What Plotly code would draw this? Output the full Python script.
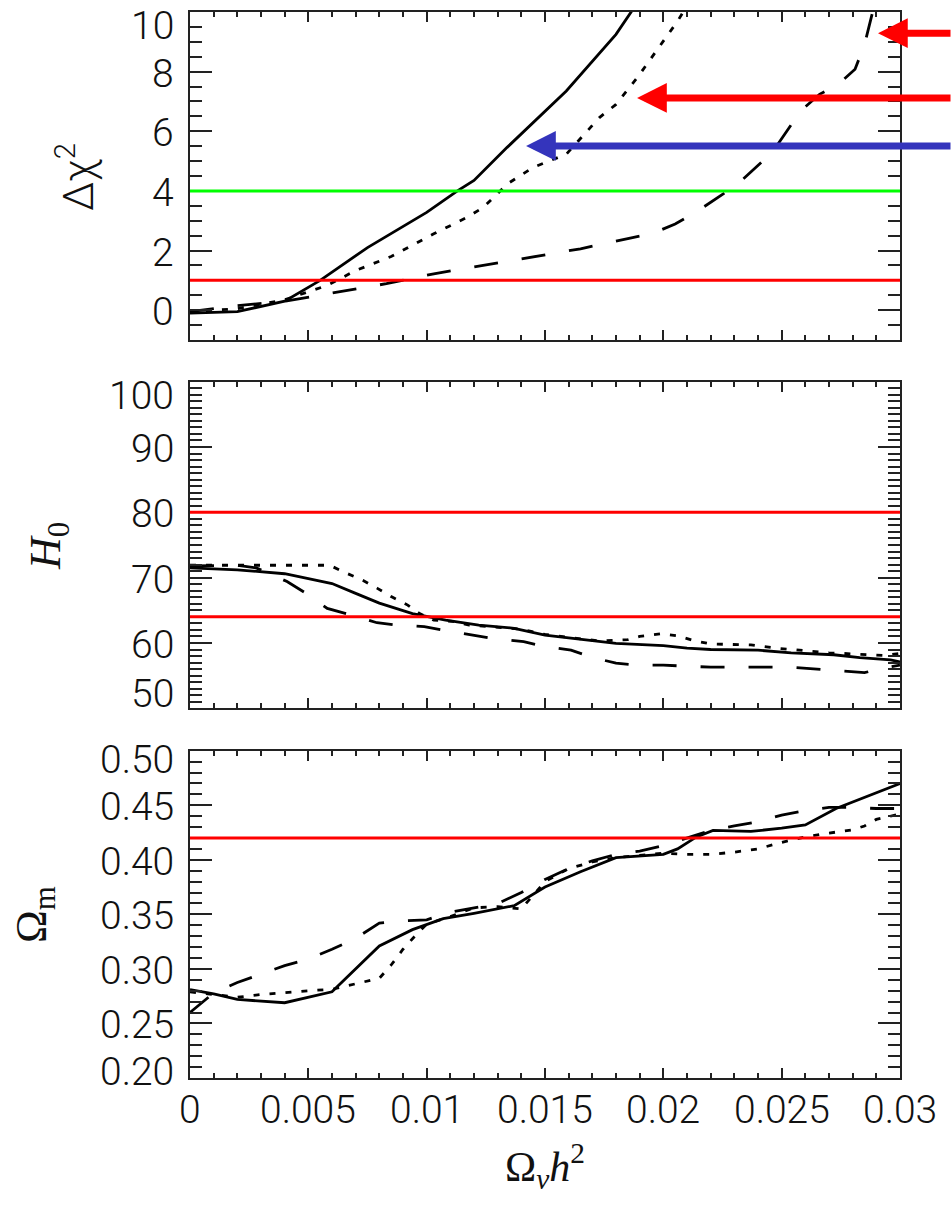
import plotly.graph_objects as go

# ---------------- data ----------------
# Panel 1: delta chi-square versus Omega_nu h^2
chi_solid_x = [0, 0.002, 0.004, 0.0055, 0.0075, 0.010, 0.0113, 0.012, 0.0134, 0.0159, 0.018, 0.020]
chi_solid_y = [-0.1, -0.05, 0.3, 1.0, 2.1, 3.28, 4.0, 4.35, 5.46, 7.35, 9.25, 11.6]
chi_dot_x = [0, 0.002, 0.004, 0.0058, 0.007, 0.0085, 0.0103, 0.0117, 0.0124, 0.0134, 0.0145,
             0.0159, 0.0173, 0.018, 0.0189, 0.0197, 0.0206, 0.022]
chi_dot_y = [-0.05, 0.05, 0.35, 0.83, 1.33, 1.8, 2.56, 3.11, 3.45, 4.23, 4.79,
             5.23, 6.46, 6.9, 7.8, 8.69, 9.69, 11.5]
chi_dash_x = [0, 0.002, 0.004, 0.0062, 0.0083, 0.0103, 0.0124, 0.0145, 0.0165, 0.0186, 0.0195,
              0.0205, 0.0214, 0.0231, 0.0246, 0.0258, 0.0266, 0.0274, 0.0281, 0.0285, 0.0290]
chi_dash_y = [-0.05, 0.15, 0.3, 0.6, 0.89, 1.22, 1.5, 1.78, 2.06, 2.42, 2.56,
              2.89, 3.3, 4.2, 5.29, 6.68, 7.24, 7.58, 8.08, 8.9, 10.5]

# Panel 2: Hubble constant
h0_solid_x = [0, 0.002, 0.004, 0.006, 0.007, 0.008, 0.0094, 0.0108, 0.0122, 0.0137, 0.015,
              0.0165, 0.018, 0.020, 0.021, 0.022, 0.024, 0.0254, 0.0272, 0.0283, 0.0296, 0.030]
h0_solid_y = [71.5, 71.2, 70.6, 69.1, 67.6, 66.1, 64.5, 63.5, 62.75, 62.25, 61.2,
              60.55, 59.95, 59.6, 59.2, 59.0, 58.9, 58.5, 58.2, 57.75, 57.4, 57.1]
h0_dot_x = [0, 0.002, 0.004, 0.0059, 0.0066, 0.0073, 0.0079, 0.0085, 0.0092, 0.0097, 0.0103,
            0.0111, 0.0118, 0.0127, 0.014, 0.015, 0.0165, 0.0173, 0.0185, 0.019, 0.0199,
            0.0206, 0.0213, 0.022, 0.0237, 0.0248, 0.027, 0.0285, 0.0293, 0.030]
h0_dot_y = [71.9, 71.9, 71.9, 71.9, 70.7, 69.6, 68.4, 67.1, 65.8, 64.5, 63.5,
            63.3, 62.75, 62.5, 62.1, 61.3, 60.6, 60.3, 60.5, 61.0, 61.4,
            61.1, 60.35, 59.85, 59.7, 59.2, 58.5, 58.3, 58.1, 58.4]
h0_dash_x = [0, 0.001, 0.002, 0.0028, 0.0041, 0.0049, 0.0058, 0.0068, 0.0079, 0.0087, 0.0099,
             0.0108, 0.012, 0.0128, 0.0141, 0.0149, 0.0161, 0.017, 0.018, 0.019, 0.020,
             0.021, 0.022, 0.0253, 0.0265, 0.0273, 0.0285, 0.0292, 0.030]
h0_dash_y = [71.8, 71.9, 71.9, 71.5, 69.4, 67.6, 65.3, 64.3, 63.1, 62.75, 62.5,
             61.9, 61.2, 60.7, 60.2, 59.5, 58.9, 57.8, 56.9, 56.6, 56.6,
             56.4, 56.3, 56.3, 56.0, 55.7, 55.45, 56.1, 56.6]

# Panel 3: matter density
om_solid_x = [0, 0.001, 0.002, 0.004, 0.006, 0.008, 0.0094, 0.0107, 0.012, 0.0137, 0.015,
              0.0165, 0.018, 0.020, 0.0206, 0.0214, 0.0221, 0.0237, 0.025, 0.026, 0.0273,
              0.0286, 0.030]
om_solid_y = [0.281, 0.277, 0.272, 0.269, 0.279, 0.321, 0.336, 0.346, 0.351, 0.358, 0.375,
              0.389, 0.402, 0.405, 0.410, 0.421, 0.427, 0.426, 0.429, 0.432, 0.447,
              0.458, 0.470]
om_dot_x = [0, 0.002, 0.003, 0.004, 0.005, 0.006, 0.007, 0.008, 0.0085, 0.009, 0.0095, 0.010,
            0.011, 0.012, 0.013, 0.014, 0.015, 0.016, 0.017, 0.018, 0.019, 0.020, 0.021,
            0.022, 0.023, 0.024, 0.025, 0.026, 0.027, 0.028, 0.0285, 0.029, 0.030]
om_dot_y = [0.279, 0.274, 0.2765, 0.2785, 0.280, 0.2813, 0.2865, 0.2914, 0.3036, 0.318, 0.330, 0.341,
            0.348, 0.356, 0.357, 0.355, 0.380, 0.392, 0.398, 0.402, 0.404, 0.406, 0.405,
            0.405, 0.407, 0.410, 0.416, 0.421, 0.4245, 0.4275, 0.431, 0.437, 0.442]
om_dash_x = [0, 0.001, 0.002, 0.003, 0.004, 0.005, 0.006, 0.007, 0.008, 0.009, 0.010, 0.011,
             0.012, 0.013, 0.014, 0.015, 0.016, 0.017, 0.018, 0.019, 0.020, 0.021, 0.022,
             0.023, 0.024, 0.025, 0.026, 0.027, 0.028, 0.029, 0.030]
om_dash_y = [0.260, 0.278, 0.2875, 0.295, 0.303, 0.309, 0.318, 0.328, 0.342, 0.344, 0.345, 0.352,
             0.356, 0.360, 0.370, 0.382, 0.392, 0.399, 0.405, 0.408, 0.413, 0.420, 0.427,
             0.431, 0.435, 0.441, 0.445, 0.448, 0.448, 0.447, 0.447]

# Reference levels
chi_levels = [1, 4]
chi_level_colors = ["#FF0000", "#00FF00"]
h0_levels = [64, 80]
om_levels = [0.42]

# Pointer arrows in panel 1 (tip positions)
pointer_x = [0.02907, 0.01889, 0.0142]
pointer_y = [9.29, 7.12, 5.51]
pointer_colors = ["#FF0000", "#FF0000", "#3434BC"]

# Tick labels
x_tick_vals = [0, 0.005, 0.01, 0.015, 0.02, 0.025, 0.03]
x_tick_text = ["0", "0.005", "0.01", "0.015", "0.02", "0.025", "0.03"]
chi_tick_vals = [0, 2, 4, 6, 8, 10]
h0_tick_vals = [50, 60, 70, 80, 90, 100]
om_tick_vals = [0.20, 0.25, 0.30, 0.35, 0.40, 0.45, 0.50]
om_tick_text = ["0.20", "0.25", "0.30", "0.35", "0.40", "0.45", "0.50"]

# ---------------- layout geometry ----------------
W, H = 952, 1212
PX_LEFT, PX_RIGHT = 190, 900
panel_px = [(12, 340), (381.7, 708.3), (750.7, 1078)]
y_ranges = [[-1, 10], [50, 100], [0.2, 0.5]]
y_dticks = [2, 10, 0.05]
y_minor = [0.5, 1, 0.01]
y_refs = ["y", "y2", "y3"]
# pixel nudges for the end labels so they stay within each panel's height
end_label_shift = [(None, -14), (14, -14), (6.5, -9)]

AX_COLOR = "#222222"
TICK_FONT = dict(family="Roboto", size=39, color="#111111", weight=300)

def py2paper(py):
    return 1 - py / H

line_styles = {
    "solid": dict(color="black", width=2.8, dash="solid"),
    "dot": dict(color="black", width=2.8, dash="6px,10px"),
    "dash": dict(color="black", width=2.8, dash="24px,24px"),
}

fig = go.Figure()

series = [
    [(chi_solid_x, chi_solid_y, "solid"), (chi_dot_x, chi_dot_y, "dot"), (chi_dash_x, chi_dash_y, "dash")],
    [(h0_solid_x, h0_solid_y, "solid"), (h0_dot_x, h0_dot_y, "dot"), (h0_dash_x, h0_dash_y, "dash")],
    [(om_solid_x, om_solid_y, "solid"), (om_dot_x, om_dot_y, "dot"), (om_dash_x, om_dash_y, "dash")],
]

for i, group in enumerate(series):
    sfx = "" if i == 0 else str(i + 1)
    for xs, ys, style in group:
        fig.add_trace(go.Scatter(x=xs, y=ys, mode="lines", line=line_styles[style],
                                 xaxis="x" + sfx, yaxis="y" + sfx,
                                 showlegend=False, hoverinfo="skip"))

layout_axes = {}
for i in range(3):
    sfx = "" if i == 0 else str(i + 1)
    top, bot = panel_px[i]
    layout_axes["xaxis" + sfx] = dict(
        domain=[PX_LEFT / W, PX_RIGHT / W], range=[0, 0.03], anchor="y" + sfx,
        showline=True, linecolor=AX_COLOR, linewidth=2, mirror="ticks",
        ticks="inside", tick0=0, dtick=0.005, ticklen=10, tickwidth=1.5, tickcolor=AX_COLOR,
        minor=dict(ticks="inside", dtick=0.001, tick0=0, ticklen=5, tickwidth=1.5,
                   tickcolor=AX_COLOR, showgrid=False),
        showticklabels=False, showgrid=False, zeroline=False,
    )
    layout_axes["yaxis" + sfx] = dict(
        domain=[py2paper(bot), py2paper(top)], range=y_ranges[i], anchor="x" + sfx,
        showline=True, linecolor=AX_COLOR, linewidth=2, mirror="ticks",
        ticks="inside", tick0=0, dtick=y_dticks[i], ticklen=22, tickwidth=1.5, tickcolor=AX_COLOR,
        minor=dict(ticks="inside", dtick=y_minor[i], tick0=0, ticklen=12, tickwidth=1.5,
                   tickcolor=AX_COLOR, showgrid=False),
        showticklabels=False, showgrid=False, zeroline=False,
    )

# Horizontal reference levels
shapes = []
for lvl, col in zip(chi_levels, chi_level_colors):
    shapes.append(dict(type="line", xref="x domain", yref="y", x0=0, x1=1, y0=lvl, y1=lvl,
                       line=dict(color=col, width=3)))
for lvl in h0_levels:
    shapes.append(dict(type="line", xref="x2 domain", yref="y2", x0=0, x1=1, y0=lvl, y1=lvl,
                       line=dict(color="#FF0000", width=3)))
for lvl in om_levels:
    shapes.append(dict(type="line", xref="x3 domain", yref="y3", x0=0, x1=1, y0=lvl, y1=lvl,
                       line=dict(color="#FF0000", width=3)))

annotations = []

# y tick labels, placed just left of each panel; the end labels are tucked inside the span
def y_labels(vals, texts, panel):
    lo, hi = y_ranges[panel]
    lo_shift, hi_shift = end_label_shift[panel]
    for v, t in zip(vals, texts):
        shift = -2
        if abs(v - hi) < 1e-9:
            shift = hi_shift
        elif abs(v - lo) < 1e-9 and lo_shift is not None:
            shift = lo_shift
        annotations.append(dict(text=t, x=176 / W, xref="paper", xanchor="right",
                                y=v, yref=y_refs[panel], yanchor="middle", yshift=shift,
                                showarrow=False, font=TICK_FONT))

y_labels(chi_tick_vals, [str(v) for v in chi_tick_vals], 0)
y_labels(h0_tick_vals, [str(v) for v in h0_tick_vals], 1)
y_labels(om_tick_vals, om_tick_text, 2)

# x tick labels beneath the bottom panel
for v, t in zip(x_tick_vals, x_tick_text):
    annotations.append(dict(text=t, x=v, xref="x3", xanchor="center",
                            y=py2paper(1110), yref="paper", yanchor="middle",
                            showarrow=False, font=TICK_FONT))

# Axis titles
title_common = dict(xref="paper", yref="paper", xanchor="center", yanchor="middle",
                    showarrow=False)
annotations += [
    dict(text="Δχ<sup>2</sup>", x=75 / W, y=py2paper(177), textangle=-90,
         font=dict(family="Roboto", size=42, color="#111111", weight=300), **title_common),
    dict(text="<i>H</i><sub>0</sub>", x=48 / W, y=py2paper(546), textangle=-90,
         font=dict(family="Liberation Serif", size=44, color="#111111"), **title_common),
    dict(text="Ω<sub>m</sub>", x=34 / W, y=py2paper(915), textangle=-90,
         font=dict(family="Liberation Serif", size=44, color="#111111"), **title_common),
    dict(text="Ω<sub><i>ν</i></sub><i>h</i><sup>2</sup>", x=545 / W, y=py2paper(1166),
         font=dict(family="Liberation Serif", size=42, color="#111111"), **title_common),
]

# Pointer arrows coming in from the right edge
for xv, yv, col in zip(pointer_x, pointer_y, pointer_colors):
    tip_px = PX_LEFT + (xv / 0.03) * (PX_RIGHT - PX_LEFT)
    annotations.append(dict(text="", x=xv, y=yv, xref="x", yref="y",
                            ax=W - tip_px + 20, ay=0, axref="pixel", ayref="pixel",
                            showarrow=True, arrowhead=2, arrowsize=0.85, arrowwidth=7,
                            arrowcolor=col, standoff=0))

fig.update_layout(
    width=W, height=H, margin=dict(l=0, r=0, t=0, b=0),
    paper_bgcolor="white", plot_bgcolor="white",
    showlegend=False, shapes=shapes, annotations=annotations,
    **layout_axes,
)

fig.write_html("out.html")
